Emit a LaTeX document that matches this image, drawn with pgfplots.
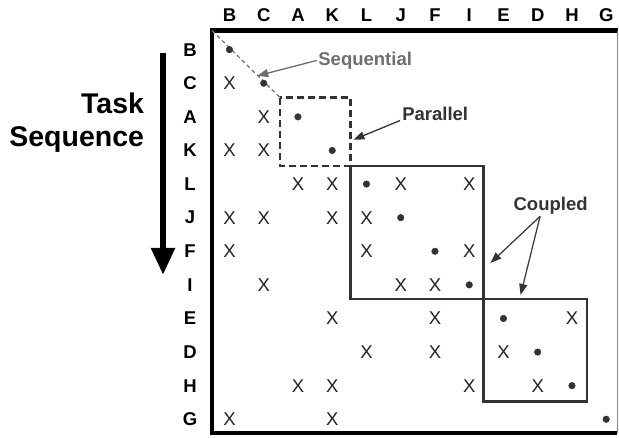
\documentclass[border=0pt]{standalone}
\usepackage{pgfplots}
\pgfplotsset{compat=1.18}
\usepackage{fontspec}
\setmainfont{Liberation Sans}
\usetikzlibrary{arrows.meta}
\definecolor{dk}{HTML}{333333}
\definecolor{gr}{HTML}{6E6E6E}
\definecolor{mk}{HTML}{222222}
\begin{document}
\begin{tikzpicture}
\useasboundingbox (0,0) rectangle (619pt,-437pt);
\begin{axis}[
  at={(212pt,-30.5pt)}, anchor=north west,
  x=34.25pt, y=33.6pt, y dir=reverse,
  xmin=0.49, xmax=12.32, ymin=0.43, ymax=12.405,
  axis line style={draw=none}, major tick length=0pt,
  xtick={1,...,12}, ytick={1,...,12},
  xticklabels={B,C,A,K,L,J,F,I,E,D,H,G},
  yticklabels={B,C,A,K,L,J,F,I,E,D,H,G},
  xticklabel pos=upper,
  tick label style={font=\bfseries\fontsize{18.5}{18.5}\selectfont, text=black},
  xticklabel style={anchor=center, yshift=15pt},
  yticklabel style={anchor=center, xshift=-22pt},
  clip=false,
]
% frame
\draw[line width=4.5pt, line join=miter] (axis cs:12.35,0.43) -- (axis cs:0.49,0.43) -- (axis cs:0.49,12.405) -- (axis cs:12.32,12.405);
\draw[line width=1.2pt, color=black!45] (axis cs:12.32,0.43) -- (axis cs:12.32,12.405);
% diagonal
\draw[gr, line width=1.2pt, dash pattern=on 4pt off 3pt] (axis cs:0.49,0.43) -- (axis cs:2.48,2.43);
% boxes
\draw[dk, line width=2.5pt, dash pattern=on 7pt off 4pt] (axis cs:2.48,2.43) rectangle (axis cs:4.53,4.46);
\draw[dk, line width=2.3pt] (axis cs:4.53,4.46) rectangle (axis cs:8.42,8.43);
\draw[dk, line width=2.3pt] (axis cs:8.42,8.43) rectangle (axis cs:11.43,11.47);
% diagonal dots
\addplot[only marks, mark=*, mark size=3.3pt, color=dk] coordinates {
 (1,1) (2,2) (3,3) (4,4) (5,5) (6,6) (7,7) (8,8) (9,9) (10,10) (11,11) (12,12)};
% dependencies
\addplot[only marks, mark=text, text mark={X}, text mark as node=true,
  text mark style={font=\fontsize{18.5}{18.5}\selectfont, inner sep=0pt, anchor=center, text=mk}] coordinates {
 (1,2)
 (2,3)
 (1,4) (2,4)
 (3,5) (4,5) (6,5) (8,5)
 (1,6) (2,6) (4,6) (5,6)
 (1,7) (5,7) (8,7)
 (2,8) (6,8) (7,8)
 (4,9) (7,9) (11,9)
 (5,10) (7,10) (9,10)
 (3,11) (4,11) (8,11) (10,11)
 (1,12) (4,12)};
% annotations
\node[anchor=base west, inner sep=0pt, text=gr, font=\bfseries\fontsize{18.5}{18.5}\selectfont] at (axis cs:3.59,1.48) {Sequential};
\draw[gr, line width=1.3pt, -{Triangle[length=11pt,width=8pt]}] (axis cs:3.55,1.32) -- (axis cs:1.81,1.78);
\node[anchor=base west, inner sep=0pt, text=dk, font=\bfseries\fontsize{18.5}{18.5}\selectfont] at (axis cs:6.04,3.11) {Parallel};
\draw[dk, line width=1.3pt, -{Triangle[length=11pt,width=8pt]}] (axis cs:5.98,3.11) -- (axis cs:4.62,3.68);
\node[anchor=base west, inner sep=0pt, text=dk, font=\bfseries\fontsize{18.5}{18.5}\selectfont] at (axis cs:9.29,5.79) {Coupled};
\draw[dk, line width=1.2pt, -{Triangle[length=11pt,width=8pt]}] (axis cs:10.07,5.96) -- (axis cs:8.62,7.35);
\draw[dk, line width=1.2pt, -{Triangle[length=11pt,width=8pt]}] (axis cs:10.07,5.96) -- (axis cs:9.50,8.30);
% task sequence
\node[anchor=base east, inner sep=0pt, font=\bfseries\fontsize{28.5}{28.5}\selectfont] at (axis cs:-1.49,2.89) {Task};
\node[anchor=base east, inner sep=0pt, font=\bfseries\fontsize{28.5}{28.5}\selectfont] at (axis cs:-1.49,3.89) {Sequence};
\draw[black, line width=6pt, -{Triangle[length=27pt,width=23pt]}] (axis cs:-0.94,1.09) -- (axis cs:-0.94,7.70);
\end{axis}
\end{tikzpicture}
\end{document}
